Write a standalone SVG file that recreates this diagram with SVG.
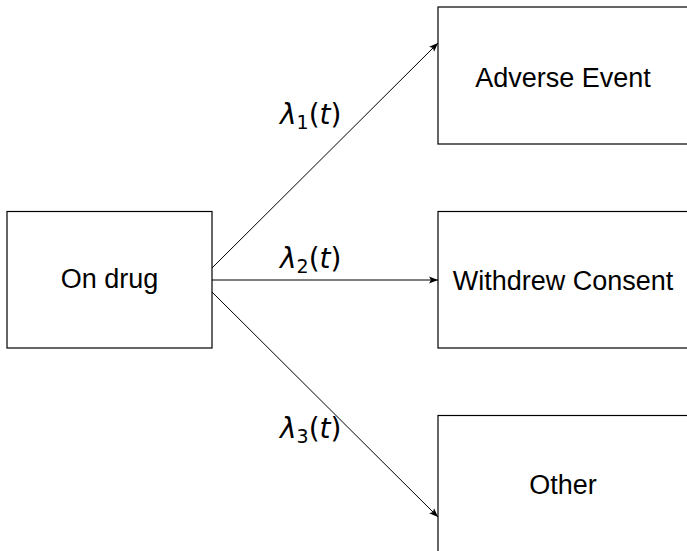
<svg xmlns="http://www.w3.org/2000/svg" width="687" height="551" viewBox="0 0 687 551">
<style>
.box{fill:#fff;stroke:#000;stroke-width:1.2}
.lbl{font-family:"Liberation Sans",Arial,sans-serif;font-size:27px;fill:#000;text-anchor:middle}
.edge{stroke:#000;stroke-width:1;fill:none;marker-end:url(#ah)}
.rate{font-family:"DejaVu Sans",sans-serif;font-size:28px;fill:#000}
</style>
<defs>
<marker id="ah" markerWidth="10" markerHeight="8" refX="9" refY="4" orient="auto" markerUnits="userSpaceOnUse">
<path d="M0,0.5 L9,4 L0,7.5 L2,4 Z" fill="#000"/>
</marker>
</defs>
<rect width="687" height="551" fill="#fff"/>
<g id="connectors">
<line class="edge" x1="212" y1="268" x2="438" y2="43"/>
<line class="edge" x1="212" y1="280" x2="438" y2="280"/>
<line class="edge" x1="212" y1="292" x2="438" y2="517"/>
<text class="rate" x="280" y="124"><tspan font-style="italic">λ</tspan><tspan font-size="19" dy="5">1</tspan><tspan dy="-5">(</tspan><tspan font-style="italic">t</tspan>)</text>
<text class="rate" x="280" y="268"><tspan font-style="italic">λ</tspan><tspan font-size="19" dy="5">2</tspan><tspan dy="-5">(</tspan><tspan font-style="italic">t</tspan>)</text>
<text class="rate" x="280" y="438"><tspan font-style="italic">λ</tspan><tspan font-size="19" dy="5">3</tspan><tspan dy="-5">(</tspan><tspan font-style="italic">t</tspan>)</text>
</g>
<g id="on-drug">
<rect class="box" x="7" y="211.5" width="205" height="136.5"/>
<text class="lbl" x="109.5" y="288">On drug</text>
</g>
<g id="adverse-event">
<rect class="box" x="438" y="7" width="252" height="137"/>
<text class="lbl" x="563" y="87">Adverse Event</text>
</g>
<g id="withdrew-consent">
<rect class="box" x="438" y="211.5" width="252" height="136.5"/>
<text class="lbl" x="563" y="290">Withdrew Consent</text>
</g>
<g id="other">
<rect class="box" x="438" y="415.5" width="252" height="140"/>
<text class="lbl" x="563" y="494">Other</text>
</g>
</svg>
